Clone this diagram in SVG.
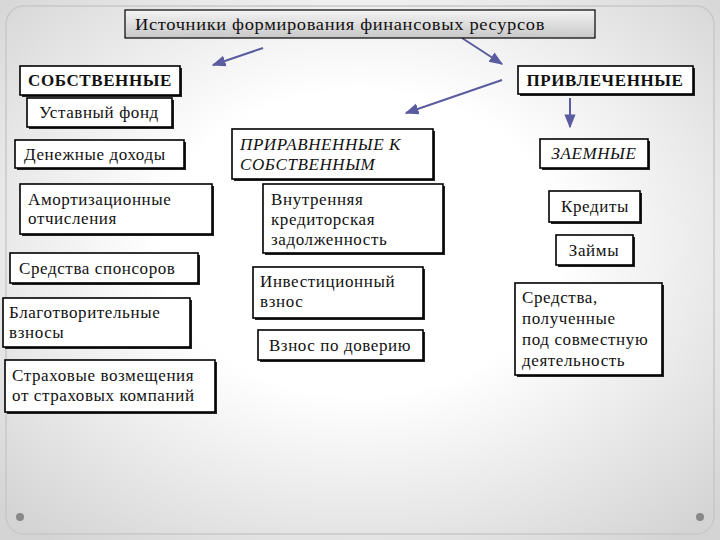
<svg xmlns="http://www.w3.org/2000/svg" width="720" height="540" viewBox="0 0 720 540">
<defs>
<radialGradient id="bg" cx="50%" cy="45%" r="70%"><stop offset="0.4" stop-color="#ffffff"/><stop offset="1" stop-color="#d4d4d4"/></radialGradient>
<linearGradient id="tg" x1="0" y1="0" x2="0" y2="1"><stop offset="0" stop-color="#f4f4f4"/><stop offset="1" stop-color="#c8c8c8"/></linearGradient>
<marker id="ah" viewBox="0 0 10 10" refX="9" refY="5" markerWidth="7" markerHeight="7" orient="auto"><path d="M0,1 L10,5 L0,9 z" fill="#5b5ba0"/></marker>
<style>
.b{fill:#fff;stroke:#000;stroke-width:1.6}
.sh{fill:#222}
text{font-family:"Liberation Serif","Times New Roman",serif;font-size:17px;letter-spacing:0.6px;fill:#111}
.bold{font-weight:bold}
.it{font-style:italic}
.c{stroke:#5b5ba0;stroke-width:2;fill:none;marker-end:url(#ah)}
</style>
</defs>
<rect width="720" height="540" fill="url(#bg)"/>
<rect x="6" y="6" width="708" height="528" rx="18" fill="none" stroke="#c8c8c8" stroke-width="1.5"/>
<circle cx="20" cy="517" r="4" fill="#888"/><circle cx="700" cy="517" r="4" fill="#888"/>
<g id="connectors">
<line class="c" x1="263" y1="48" x2="213" y2="65"/>
<line class="c" x1="462" y1="38" x2="502" y2="64"/>
<line class="c" x1="502" y1="80" x2="406" y2="113"/>
<line class="c" x1="570" y1="98" x2="570" y2="127"/>
</g>
<g id="title"><rect x="125" y="10" width="470" height="28" fill="url(#tg)" stroke="#000" stroke-width="1.2"/><text x="135" y="30" textLength="410" lengthAdjust="spacingAndGlyphs">Источники формирования финансовых ресурсов</text></g>
<g id="own"><rect class="sh" x="22" y="68" width="160" height="29"/><rect class="b" x="20" y="66" width="160" height="29"/><text class="bold" x="100" y="86" text-anchor="middle">СОБСТВЕННЫЕ</text></g>
<g id="borrowed"><rect class="sh" x="520" y="68" width="175" height="28"/><rect class="b" x="518" y="66" width="175" height="28"/><text class="bold" x="605" y="86" text-anchor="middle">ПРИВЛЕЧЕННЫЕ</text></g>
<g id="n1"><rect class="sh" x="29" y="100" width="145" height="29"/><rect class="b" x="27" y="98" width="145" height="29"/><text x="99" y="118" text-anchor="middle">Уставный фонд</text></g>
<g id="n2"><rect class="sh" x="17" y="142" width="169" height="28"/><rect class="b" x="15" y="140" width="169" height="28"/><text x="24" y="160">Денежные доходы</text></g>
<g id="n3"><rect class="sh" x="234" y="131" width="201" height="50"/><rect class="b" x="232" y="129" width="201" height="50"/><text class="it" x="240" y="150">ПРИРАВНЕННЫЕ К</text><text class="it" x="240" y="170">СОБСТВЕННЫМ</text></g>
<g id="n4"><rect class="sh" x="542" y="141" width="108" height="29"/><rect class="b" x="540" y="139" width="108" height="29"/><text class="it" x="594" y="159" text-anchor="middle">ЗАЕМНЫЕ</text></g>
<g id="n5"><rect class="sh" x="22" y="186" width="192" height="50"/><rect class="b" x="20" y="184" width="192" height="50"/><text x="28" y="205">Амортизационные</text><text x="28" y="224">отчисления</text></g>
<g id="n6"><rect class="sh" x="265" y="186" width="180" height="69"/><rect class="b" x="263" y="184" width="180" height="69"/><text x="271" y="205">Внутренняя</text><text x="271" y="225">кредиторская</text><text x="271" y="245">задолженность</text></g>
<g id="n7"><rect class="sh" x="551" y="193" width="91" height="31"/><rect class="b" x="549" y="191" width="91" height="31"/><text x="595" y="212" text-anchor="middle">Кредиты</text></g>
<g id="n8"><rect class="sh" x="558" y="237" width="77" height="30"/><rect class="b" x="556" y="235" width="77" height="30"/><text x="594" y="256" text-anchor="middle">Займы</text></g>
<g id="n9"><rect class="sh" x="12" y="255" width="188" height="30"/><rect class="b" x="10" y="253" width="188" height="30"/><text x="19" y="274">Средства спонсоров</text></g>
<g id="n10"><rect class="sh" x="255" y="269" width="170" height="51"/><rect class="b" x="253" y="267" width="170" height="51"/><text x="260" y="287">Инвестиционный</text><text x="260" y="307">взнос</text></g>
<g id="n11"><rect class="sh" x="517" y="285" width="147" height="92"/><rect class="b" x="515" y="283" width="147" height="92"/><text x="522" y="303">Средства,</text><text x="522" y="324">полученные</text><text x="522" y="345">под совместную</text><text x="522" y="366">деятельность</text></g>
<g id="n12"><rect class="sh" x="5" y="300" width="187" height="49"/><rect class="b" x="3" y="298" width="187" height="49"/><text x="9" y="318">Благотворительные</text><text x="9" y="338">взносы</text></g>
<g id="n13"><rect class="sh" x="260" y="332" width="165" height="30"/><rect class="b" x="258" y="330" width="165" height="30"/><text x="340" y="351" text-anchor="middle">Взнос по доверию</text></g>
<g id="n14"><rect class="sh" x="7" y="362" width="210" height="52"/><rect class="b" x="5" y="360" width="210" height="52"/><text x="12" y="381">Страховые возмещения</text><text x="12" y="401">от страховых компаний</text></g>
</svg>
